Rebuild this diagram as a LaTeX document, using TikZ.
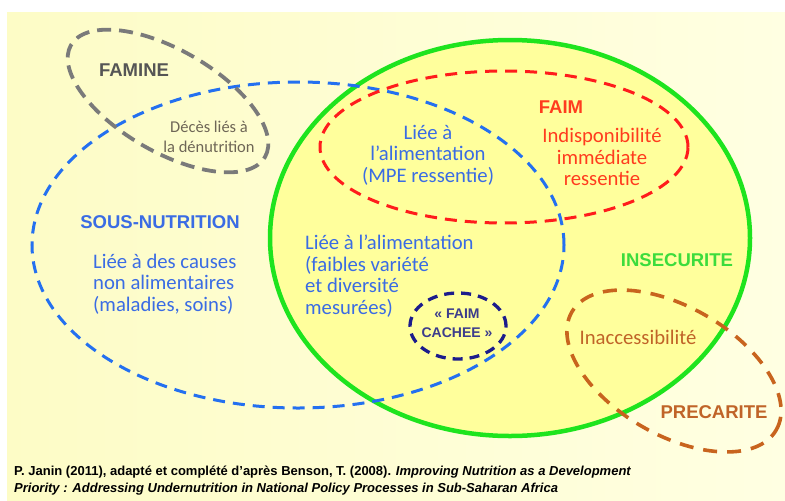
\documentclass[tikz,border=0pt]{standalone}
\usepackage{fontspec}
\setmainfont{Liberation Sans}
\newfontfamily\calib{Carlito}
\definecolor{bgleft}{HTML}{FDFCC6}
\definecolor{bgright}{HTML}{FFFFE2}
\definecolor{insfill}{HTML}{FFFF9C}
\definecolor{insgreen}{HTML}{1EE41E}
\definecolor{instext}{HTML}{3CDC3C}
\definecolor{sousblue}{HTML}{2470F0}
\definecolor{soustext}{HTML}{3A6CE4}
\definecolor{faimred}{HTML}{FF1C1C}
\definecolor{faimtext}{HTML}{FF3C1E}
\definecolor{famgrey}{HTML}{7A7A7A}
\definecolor{famtext}{HTML}{555555}
\definecolor{decestext}{HTML}{6E6656}
\definecolor{cachnavy}{HTML}{1C1C8C}
\definecolor{cachtext}{HTML}{3C3C8C}
\definecolor{precbrown}{HTML}{C8641E}
\definecolor{prectext}{HTML}{C06428}

\begin{document}
\begin{tikzpicture}[scale=0.3514]
            \tikzstyle{every node}+=[inner sep=0pt]
            \tikzstyle{head}=[font=\fontsize{18.5}{20}\selectfont\bfseries]
            \tikzstyle{body}=[font=\calib\fontsize{20.7}{21.5}\selectfont]
            \tikzstyle{dashline}=[line width=3pt, dash pattern=on 12pt off 8pt]
            \useasboundingbox (0,0) rectangle (78.5,-50);
            \fill [white] (0,0) rectangle (78.5,-50);
            \shade [left color=bgleft, right color=bgright] (0.7,-1.2) rectangle (78.5,-50);
            \draw [insgreen, line width=4.5pt, fill=insfill] (51.0,-23.8) ellipse (24 and 19.8);
            \draw [sousblue, dashline] (29.8,-24.5) ellipse (26.6 and 16.3);
            \draw [faimred, dashline] (50.4,-14.7) ellipse (18.4 and 7.6);
            \draw [famgrey, dashline, line width=3.8pt, dash pattern=on 14pt off 8pt, rotate around={-30:(16.8,-10.1)}] (16.8,-10.1) ellipse (11.2 and 5.1);
            \draw [cachnavy, dashline, line width=3.3pt, dash pattern=on 10pt off 7pt] (45.8,-32.6) ellipse (4.8 and 3.3);
            \draw [precbrown, dashline, line width=3.6pt, dash pattern=on 14pt off 10pt, rotate around={-30:(67.4,-37.1)}] (67.4,-37.1) ellipse (11.8 and 6.4);
            \node [head, famtext] (famine) at (13.4,-7.0) {FAMINE};
            \node [font=\calib\fontsize{16.5}{20}\selectfont, decestext, align=center] (deces) at (20.9,-13.7) {Décès liés à\\la dénutrition};
            \node [head, soustext] (sous) at (16.0,-22.2) {SOUS-NUTRITION};
            \node [body, soustext, align=left, anchor=west] (causes) at (9.3,-28.4) {Liée à des causes\\non alimentaires\\(maladies, soins)};
            \node [body, soustext, align=center] (mpe) at (42.8,-15.5) {Liée à\\l’alimentation\\(MPE ressentie)};
            \node [body, soustext, align=left, anchor=west] (variete) at (30.5,-27.6) {Liée à l’alimentation\\(faibles variété\\et diversité\\mesurées)};
            \node [head, faimtext] (faim) at (56.1,-10.7) {FAIM};
            \node [body, faimtext, align=center] (indisp) at (60.2,-15.7) {Indisponibilité\\immédiate\\ressentie};
            \node [font=\fontsize{14}{19}\selectfont\bfseries, cachtext, align=center] (cachee) at (45.7,-32.3) {«~FAIM\\CACHEE~»};
            \node [head, instext] (insec) at (67.7,-26.0) {INSECURITE};
            \node [body, prectext] (inacc) at (63.8,-33.7) {Inaccessibilité};
            \node [head, prectext] (prec) at (71.4,-41.2) {PRECARITE};
            \node [font=\fontsize{13}{17}\selectfont\bfseries, align=left, anchor=north west] (source) at (1.4,-46.6) {P. Janin (2011), adapté et complété d’après Benson, T. (2008). \textit{Improving Nutrition as a Development}\\\textit{Priority : Addressing Undernutrition in National Policy Processes in Sub-Saharan Africa}};
\end{tikzpicture}
\end{document}
